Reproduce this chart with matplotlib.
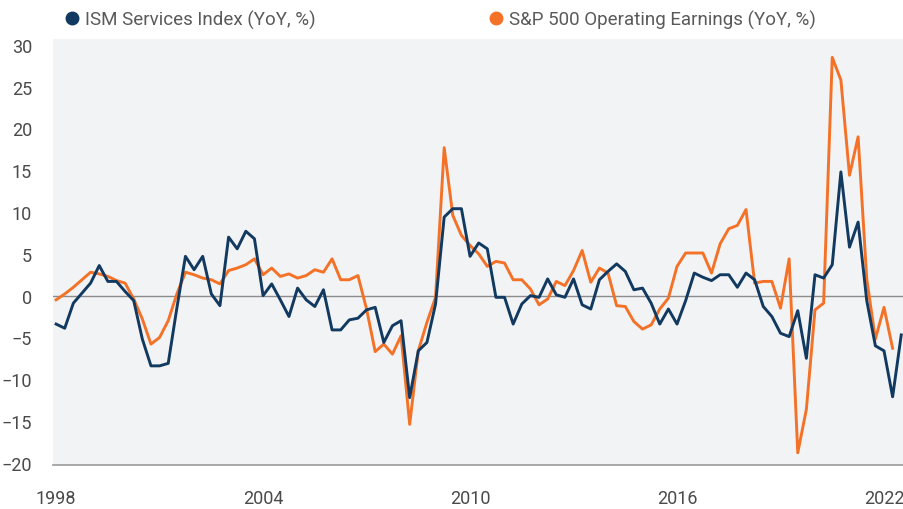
import matplotlib
matplotlib.use("Agg")
import matplotlib.pyplot as plt
from matplotlib.lines import Line2D

# quarterly points, 1998 Q1 onwards
start_year = 1998

ism_services = [
    -3.4, -3.9, -0.9, 0.3, 1.5, 3.6, 1.7, 1.7, 0.5, -0.6,
    -5.2, -8.4, -8.4, -8.1, -1.5, 4.7, 3.1, 4.7, 0.2, -1.2,
    7.0, 5.6, 7.7, 6.8, 0.0, 1.4, -0.5, -2.5, 0.9, -0.5,
    -1.3, 0.7, -4.1, -4.1, -2.9, -2.7, -1.7, -1.4, -5.6, -3.6,
    -3.0, -12.2, -6.6, -5.6, -1.0, 9.4, 10.4, 10.4, 4.7, 6.3,
    5.6, -0.2, -0.2, -3.4, -1.0, 0.0, -0.2, 2.0, 0.1, -0.2,
    2.0, -1.1, -1.6, 1.9, 2.9, 3.8, 2.9, 0.7, 0.9, -0.9,
    -3.4, -1.6, -3.4, -0.6, 2.7, 2.2, 1.8, 2.5, 2.5, 1.0,
    2.7, 1.9, -1.3, -2.5, -4.5, -4.9, -1.8, -7.5, 2.5, 2.1,
    3.7, 14.8, 5.8, 8.8, -0.6, -6.0, -6.6, -12.1, -4.7,
]

sp500_earnings = [
    -0.5, 0.2, 1.0, 1.9, 2.8, 2.6, 2.3, 1.8, 1.5, -0.4,
    -2.8, -5.8, -5.0, -3.0, 0.2, 2.8, 2.5, 2.1, 1.9, 1.4,
    3.0, 3.3, 3.7, 4.4, 2.5, 3.3, 2.3, 2.6, 2.1, 2.4,
    3.1, 2.8, 4.4, 1.9, 1.9, 2.4, -1.6, -6.7, -5.8, -7.0,
    -4.8, -15.4, -6.6, -3.2, -0.2, 17.7, 9.6, 7.2, 6.0, 5.0,
    3.5, 4.1, 3.9, 1.9, 1.9, 0.8, -1.1, -0.4, 1.7, 1.2,
    3.0, 5.4, 1.6, 3.3, 2.7, -1.2, -1.3, -3.1, -4.0, -3.5,
    -1.6, -0.3, 3.5, 5.1, 5.1, 5.1, 2.7, 6.2, 8.0, 8.4,
    10.3, 1.5, 1.7, 1.7, -1.5, 4.4, -18.8, -13.6, -1.7, -0.9,
    28.5, 25.8, 14.4, 19.0, 2.0, -5.2, -1.4, -6.3,
]

year_ticks = [1998, 2004, 2010, 2016, 2022]
y_ticks = [30, 25, 20, 15, 10, 5, 0, -5, -10, -15, -20]

navy = "#12395f"
orange = "#f47228"
text_gray = "#4a4a4a"
legend_gray = "#5a5a5a"

plt.rcParams["font.family"] = ["Roboto", "DejaVu Sans"]

ism_x = [start_year + i / 4 for i in range(len(ism_services))]
sp_x = [start_year + i / 4 for i in range(len(sp500_earnings))]

fig = plt.figure(figsize=(9.04, 5.10), dpi=100)
ax = fig.add_axes([53 / 904, 44 / 510, 851 / 904, 426 / 510])
ax.set_facecolor("#f2f3f5")

ax.axhline(0, color="#8c8c8c", linewidth=1.0, zorder=1)
ax.plot(ism_x, ism_services, color=navy, linewidth=2.1, zorder=3)
ax.plot(sp_x, sp500_earnings, color=orange, linewidth=2.1, zorder=2)

ax.set_xlim(1997.91, 2022.58)
ax.set_ylim(-20.26, 30.7)
ax.set_xticks(year_ticks)
ax.set_yticks(y_ticks)
ax.tick_params(axis="both", length=0, labelsize=13, labelcolor=text_gray)
ax.tick_params(axis="y", pad=15)
ax.tick_params(axis="x", pad=17)

for side in ("top", "right", "left"):
    ax.spines[side].set_visible(False)
ax.spines["bottom"].set_color("#9a9a9a")
ax.spines["bottom"].set_linewidth(1.2)

handles = [
    Line2D([], [], marker="o", linestyle="none", markersize=9,
           markerfacecolor=navy, markeredgecolor=navy,
           label="ISM Services Index (YoY, %)"),
    Line2D([], [], marker="o", linestyle="none", markersize=9,
           markerfacecolor=orange, markeredgecolor=orange,
           label="S&P 500 Operating Earnings (YoY, %)"),
]
leg = fig.legend(handles=handles, loc="center left", ncol=2,
                 bbox_to_anchor=(55 / 904, 1 - 20 / 510), frameon=False,
                 fontsize=13.5, handletextpad=0.2, columnspacing=9.1,
                 borderaxespad=0, handlelength=1.0)
for t in leg.get_texts():
    t.set_color(legend_gray)

fig.savefig("out.png", dpi=100)
